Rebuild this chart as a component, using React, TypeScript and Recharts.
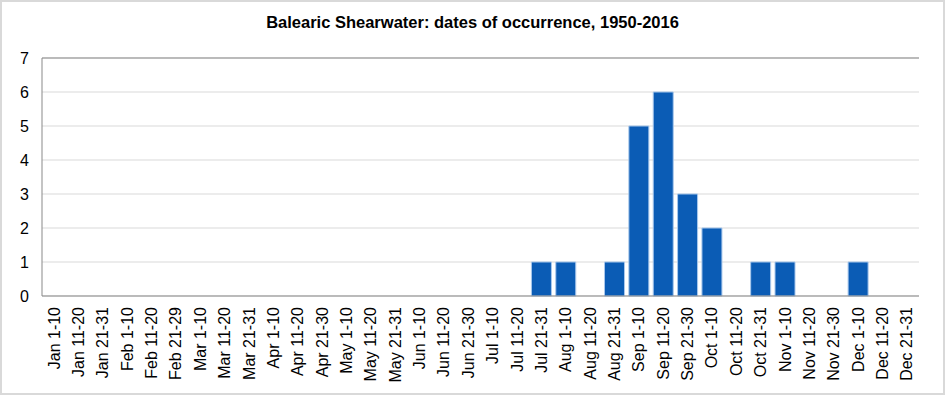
import React from 'react';
import {
    BarChart, Bar, XAxis, YAxis, CartesianGrid, ReferenceLine
} from 'recharts';

// --- Balearic Shearwater occurrence chart ---
const CATEGORIES = [
    'Jan 1-10', 'Jan 11-20', 'Jan 21-31',
    'Feb 1-10', 'Feb 11-20', 'Feb 21-29',
    'Mar 1-10', 'Mar 11-20', 'Mar 21-31',
    'Apr 1-10', 'Apr 11-20', 'Apr 21-30',
    'May 1-10', 'May 11-20', 'May 21-31',
    'Jun 1-10', 'Jun 11-20', 'Jun 21-30',
    'Jul 1-10', 'Jul 11-20', 'Jul 21-31',
    'Aug 1-10', 'Aug 11-20', 'Aug 21-31',
    'Sep 1-10', 'Sep 11-20', 'Sep 21-30',
    'Oct 1-10', 'Oct 11-20', 'Oct 21-31',
    'Nov 1-10', 'Nov 11-20', 'Nov 21-30',
    'Dec 1-10', 'Dec 11-20', 'Dec 21-31',
];

const COUNTS = [
    0, 0, 0,
    0, 0, 0,
    0, 0, 0,
    0, 0, 0,
    0, 0, 0,
    0, 0, 0,
    0, 0, 1,
    1, 0, 1,
    5, 6, 3,
    2, 0, 1,
    1, 0, 0,
    1, 0, 0,
];

const Y_TICKS = [0, 1, 2, 3, 4, 5, 6, 7];

const TITLE = 'Balearic Shearwater: dates of occurrence, 1950-2016';

const FONT = 'Arial, "Liberation Sans", sans-serif';
const FRAME = '#898989';

const data = CATEGORIES.map((name, i) => ({ name, count: COUNTS[i] }));

const RotatedTick = (props: any) => {
    const { x, y, payload } = props;
    return (
        <text
            x={x}
            y={y}
            transform={`rotate(-90 ${x} ${y})`}
            textAnchor="end"
            dominantBaseline="central"
            fontSize={16}
            fontFamily={FONT}
            fill="#000"
        >
            {payload.value}
        </text>
    );
};

export default function App() {
    return (
        <div style={{ position: 'absolute', left: 0, top: 0, width: 945, height: 395, background: '#fff' }}>
            <div style={{
                position: 'absolute', top: 13, left: 0, width: 945, textAlign: 'center',
                fontFamily: FONT, fontWeight: 'bold', fontSize: 16.5, lineHeight: '19px', color: '#000'
            }}>
                {TITLE}
            </div>
            <div style={{ position: 'absolute', left: 0, top: 0 }}>
                <BarChart
                    width={945}
                    height={395}
                    data={data}
                    margin={{ top: 58, right: 26, left: 0, bottom: 0 }}
                    barCategoryGap="9%"
                >
                    <CartesianGrid vertical={false} stroke="#d9d9d9" />
                    <XAxis
                        dataKey="name"
                        interval={0}
                        height={99}
                        tickLine={false}
                        tickSize={6}
                        tickMargin={5}
                        axisLine={{ stroke: FRAME }}
                        tick={<RotatedTick />}
                    />
                    <YAxis
                        domain={[0, 7]}
                        ticks={Y_TICKS}
                        width={42}
                        tickLine={false}
                        tickSize={6}
                        tickMargin={7}
                        axisLine={{ stroke: FRAME }}
                        tick={{ fontSize: 16, fontFamily: FONT, fill: '#000' }}
                        allowDecimals={false}
                    />
                    <YAxis
                        yAxisId="right"
                        orientation="right"
                        domain={[0, 7]}
                        width={0}
                        tick={false}
                        tickLine={false}
                        axisLine={{ stroke: FRAME }}
                    />
                    <ReferenceLine y={7} stroke={FRAME} />
                    <Bar
                        dataKey="count"
                        fill="#0B5CB5"
                        stroke="#a9c8ec"
                        strokeWidth={1}
                        isAnimationActive={false}
                    />
                </BarChart>
            </div>
            <div style={{
                position: 'absolute', left: 0, top: 0, width: 945, height: 395,
                boxSizing: 'border-box', border: '2px solid #d9d9d9', pointerEvents: 'none'
            }} />
        </div>
    );
}
